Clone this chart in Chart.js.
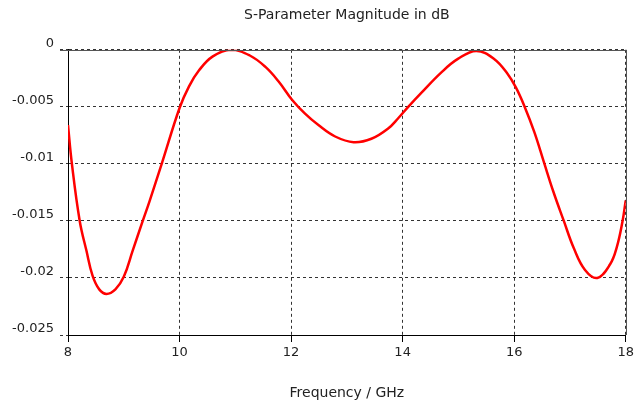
<!DOCTYPE html>
<html>
<head>
<meta charset="utf-8">
<script src="https://cdn.jsdelivr.net/npm/chart.js@4/dist/chart.umd.min.js"></script>
<style>
  html, body { margin: 0; padding: 0; background: #fff; }
  #wrap { width: 637px; height: 404px; }
</style>
</head>
<body>
<div id="wrap"><canvas id="sparam"></canvas></div>
<script>
// Valeurs (fréquence en GHz, amplitude en dB)
const freqGHz = [8.00, 8.07, 8.21, 8.33, 8.44, 8.56, 8.69, 8.85, 9.00, 9.16, 9.34, 9.46, 9.68,
    10.00, 10.17, 10.35, 10.59, 10.92, 11.26, 11.54, 11.78, 12.02, 12.25, 12.49, 12.79, 13.12,
    13.44, 13.74, 13.92, 14.10, 14.33, 14.69, 14.99, 15.32, 15.64, 15.88, 16.03, 16.18, 16.36,
    16.53, 16.70, 16.89, 17.07, 17.27, 17.49, 17.72, 17.84, 17.94, 18.00];
const magDB = [-0.0066, -0.0100, -0.0150, -0.0176, -0.0198, -0.0210, -0.0214, -0.0210, -0.0199,
    -0.0176, -0.0150, -0.0133, -0.0100, -0.0051, -0.0032, -0.0018, -0.0006, 0.0000, -0.0005,
    -0.0015, -0.0028, -0.0044, -0.0056, -0.0066, -0.0076, -0.0081, -0.0078, -0.0069, -0.0060,
    -0.0050, -0.0038, -0.0020, -0.0008, -0.0001, -0.0008, -0.0021, -0.0033, -0.0049, -0.0072,
    -0.0098, -0.0124, -0.0150, -0.0174, -0.0193, -0.0200, -0.0188, -0.0173, -0.0151, -0.0132];

// Graduations des axes
const xTicks = [8, 10, 12, 14, 16, 18];
const yTicks = [0, -0.005, -0.01, -0.015, -0.02, -0.025];
const yTickLabels = ['0', '-0.005', '-0.01', '-0.015', '-0.02', '-0.025'];

const textColor = '#222';
const gridColor = '#333';
const fontFamily = '"DejaVu Sans", Verdana, sans-serif';

// Cadre du tracé : haut et droite en gris plein
const frame = {
    id: 'frame',
    afterDatasetsDraw(chart) {
        const { ctx, chartArea: a } = chart;
        ctx.save();
        ctx.strokeStyle = '#555';
        ctx.lineWidth = 1;
        ctx.beginPath();
        ctx.moveTo(a.left - 8, Math.round(a.top) + 0.5);
        ctx.lineTo(a.right, Math.round(a.top) + 0.5);
        ctx.moveTo(Math.round(a.right) + 0.5, a.top);
        ctx.lineTo(Math.round(a.right) + 0.5, a.bottom);
        ctx.stroke();
        ctx.restore();
    }
};

new Chart(document.getElementById('sparam'), {
    type: 'line',
    data: {
        datasets: [{
            data: freqGHz.map((f, i) => ({ x: f, y: magDB[i] })),
            borderColor: '#ff0000',
            borderWidth: 2.5,
            pointRadius: 0,
            tension: 0.4,
            fill: false
        }]
    },
    options: {
        responsive: true,
        maintainAspectRatio: false,
        animation: false,
        layout: { padding: { top: 0, right: 8, left: 0, bottom: 0 } },
        plugins: {
            legend: { display: false },
            tooltip: { enabled: false },
            title: {
                display: true,
                text: 'S-Parameter Magnitude in dB',
                fullSize: false,
                color: textColor,
                font: { family: fontFamily, size: 14, weight: 'normal' },
                padding: { top: 7, bottom: 26 }
            }
        },
        scales: {
            x: {
                type: 'linear',
                min: 8,
                max: 18,
                afterBuildTicks: s => { s.ticks = xTicks.map(v => ({ value: v })); },
                afterFit: s => { s.height = 69; },
                grid: { color: gridColor, tickLength: 7, tickColor: '#000' },
                border: { color: '#000', dash: [3, 3] },
                ticks: {
                    color: textColor,
                    font: { family: fontFamily, size: 13 },
                    padding: 3,
                    maxRotation: 0
                },
                title: {
                    display: true,
                    text: 'Frequency / GHz',
                    color: textColor,
                    font: { family: fontFamily, size: 14 },
                    padding: { top: 12, bottom: 2 }
                }
            },
            y: {
                type: 'linear',
                min: -0.025,
                max: 0,
                afterBuildTicks: s => { s.ticks = yTicks.map(v => ({ value: v })); },
                afterFit: s => { s.width = 68; },
                grid: { color: gridColor, tickLength: 8, tickColor: gridColor, tickBorderDash: [3, 3] },
                border: { color: '#000', dash: [3, 3] },
                ticks: {
                    color: textColor,
                    font: { family: fontFamily, size: 13 },
                    padding: 6,
                    labelOffset: -6,
                    callback: (v, i) => yTickLabels[i]
                }
            }
        }
    },
    plugins: [frame]
});
</script>
</body>
</html>
